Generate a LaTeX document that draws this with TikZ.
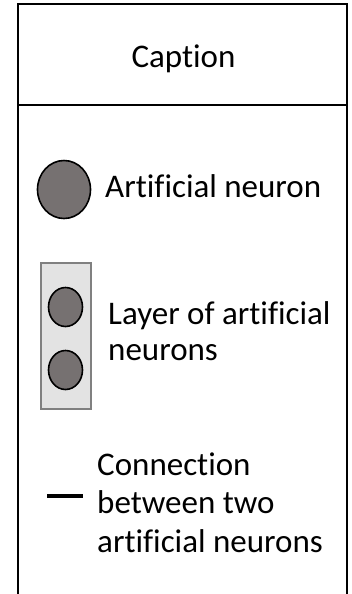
\documentclass[tikz,border=0pt]{standalone}
\usepackage{fontspec}
\setmainfont{Carlito}[Ligatures={NoCommon,NoContextual}]
\usetikzlibrary{shapes.geometric}
\definecolor{neurongray}{RGB}{118,113,113}
\definecolor{layerfill}{RGB}{227,227,227}
\definecolor{layerdraw}{RGB}{128,128,128}
\tikzset{
  frame/.style={line width=2pt, draw=black},
  neuron/.style={ellipse, draw=black, line width=1.6pt, fill=neurongray, inner sep=0pt},
  layerbox/.style={draw=layerdraw, fill=layerfill, line width=2pt},
  label/.style={inner sep=0pt, anchor=base west, align=left, font=\fontsize{33}{38.5}\selectfont},
  conn/.style={line width=4pt, draw=black}
}
\begin{document}
\begin{tikzpicture}[x=1pt,y=-1pt]
\useasboundingbox (0,0) rectangle (352,594);
\draw[frame] (18,600) -- (18,4) -- (347,4) -- (347,600);
\draw[frame] (18,105) -- (347,105);
\node[inner sep=0pt, anchor=base, font=\fontsize{33}{38}\selectfont] (cap) at (183.5,67) {Caption};
% single neuron
\node[neuron, minimum width=53pt, minimum height=58pt] (n) at (64,189.5) {};
\node[label] (nt) at (105,197) {Artificial neuron};
% layer
\node[layerbox, minimum width=50pt, minimum height=146pt, inner sep=0pt] (layer) at (66,336) {};
\node[neuron, minimum width=34pt, minimum height=39pt] (l1) at (65.5,307) {};
\node[neuron, minimum width=34pt, minimum height=39pt] (l2) at (65.5,370) {};
\node[label, font=\fontsize{33}{36}\selectfont] (lt) at (108,360) {Layer of artificial\\neurons};
% connection
\coordinate (c1) at (47,496);
\coordinate (c2) at (83,496);
\draw[conn] (c1) -- (c2);
\node[label] (ct) at (97,552) {Connection\\between two\\artificial neurons};
\end{tikzpicture}
\end{document}
